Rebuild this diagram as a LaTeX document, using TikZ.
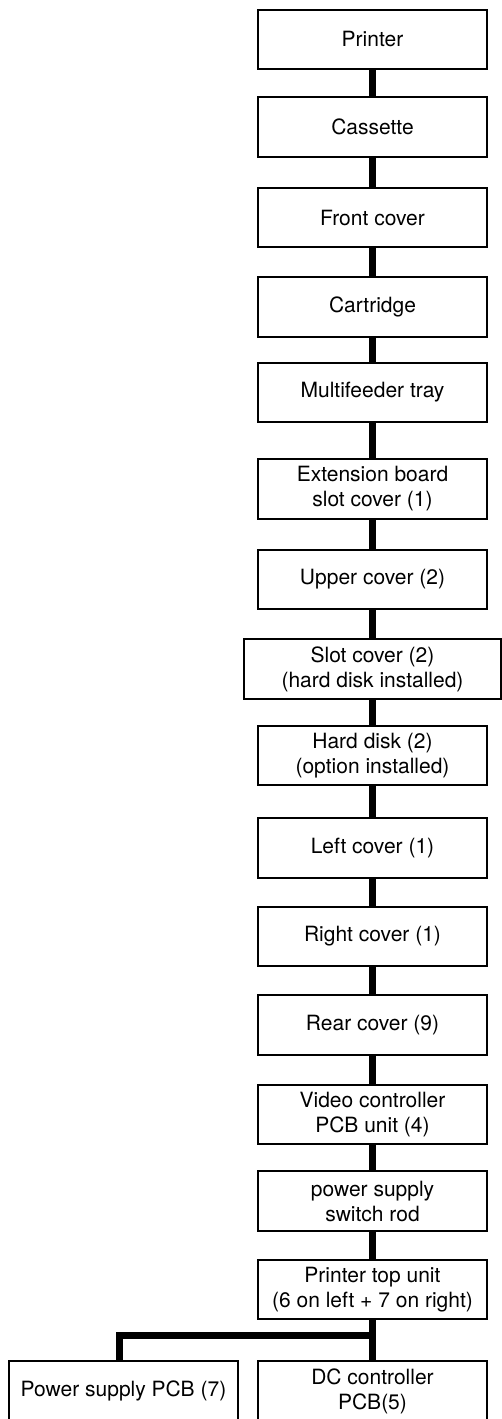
\documentclass[tikz,border=0pt]{standalone}
\usepackage{fontspec}
\setmainfont{TeX Gyre Heros}
\usetikzlibrary{positioning}

\begin{document}
\begin{tikzpicture}[
node distance=14pt,
box/.style={draw,line width=1pt,align=center,minimum width=114.5pt,minimum height=29.75pt,inner sep=2pt,font=\fontsize{10.5}{12.5}\selectfont},
link/.style={line width=3.5pt}]
\useasboundingbox (-186.25pt,19.75pt) rectangle (64.75pt,-689.75pt);
\node[box] (printer) at (0,0) {Printer};
\node[box,below=13pt of printer] (cassette) {Cassette};
\node[box,below=14.5pt of cassette] (front) {Front cover};
\node[box,below=of front] (cartridge) {Cartridge};
\node[box,below=12pt of cartridge] (mftray) {Multifeeder tray};
\node[box,below=17.5pt of mftray] (extslot) {Extension board\\slot cover (1)};
\node[box,below=14.5pt of extslot] (upper) {Upper cover (2)};
\node[box,below=of upper,minimum width=128.5pt] (slot) {Slot cover (2)\\(hard disk installed)};
\node[box,below=12.5pt of slot] (hdd) {Hard disk (2)\\(option installed)};
\node[box,below=15.5pt of hdd] (left) {Left cover (1)};
\node[box,below=13.5pt of left] (right) {Right cover (1)};
\node[box,below=13.5pt of right] (rear) {Rear cover (9)};
\node[box,below=of rear] (video) {Video controller\\PCB unit (4)};
\node[box,below=12.5pt of video] (swrod) {power supply\\switch rod};
\node[box,below=13.5pt of swrod] (topunit) {Printer top unit\\(6 on left + 7 on right)};
\node[box,below=20pt of topunit] (dcpcb) {DC controller\\PCB(5)};
\node[box,left=9pt of dcpcb] (pspcb) {Power supply PCB (7)};
% main chain
\foreach \a/\b in {printer/cassette,cassette/front,front/cartridge,cartridge/mftray,
  mftray/extslot,extslot/upper,upper/slot,slot/hdd,hdd/left,left/right,right/rear,
  rear/video,video/swrod,swrod/topunit,topunit/dcpcb}
  \draw[link] (\a) -- (\b);
\draw[link] (topunit.south) |- ([yshift=12.25pt,xshift=-2pt]pspcb.north) -- ([xshift=-2pt]pspcb.north);
\end{tikzpicture}
\end{document}
